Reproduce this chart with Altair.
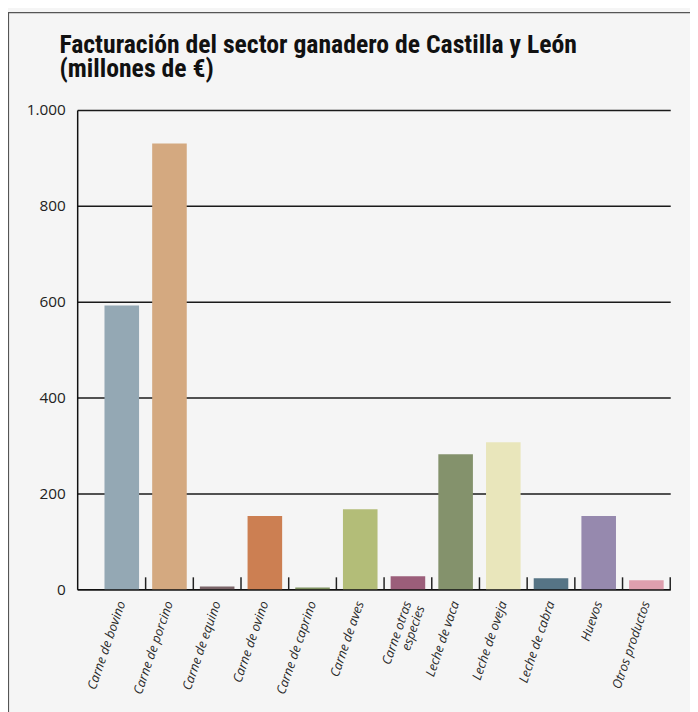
import altair as alt
import pandas as pd

categories = [
    "Carne de bovino", "Carne de porcino", "Carne de equino", "Carne de ovino",
    "Carne de caprino", "Carne de aves", "Carne otras especies", "Leche de vaca",
    "Leche de oveja", "Leche de cabra", "Huevos", "Otros productos",
]
values = [592, 930, 6, 153, 4, 167, 27, 282, 307, 23, 153, 19]
colors = [
    "#94a8b4", "#d4a980", "#7a6468", "#cc7f52", "#7f9160", "#b3bd78",
    "#9b5e7a", "#84926c", "#e9e6bb", "#567485", "#9689ae", "#de9fae",
]
y_ticks = [0, 200, 400, 600, 800, 1000]

df = pd.DataFrame({"cat": categories, "val": values})

x_scale = alt.Scale(domain=categories, paddingInner=0, paddingOuter=0.2175, align=1)
y_scale = alt.Scale(domain=[0, 1000], nice=False)

label_font = "Open Sans, Noto Sans, sans-serif"

bars = alt.Chart(df).mark_bar(width=alt.RelativeBandSize(0.725)).encode(
    x=alt.X(
        "cat:N", sort=None, scale=x_scale, title=None,
        axis=alt.Axis(
            labelAngle=289, labelAlign="right", labelBaseline="middle",
            labelPadding=12, ticks=False, domain=True, domainColor="#111",
            domainWidth=1.5, labelFont=label_font, labelFontSize=13,
            labelFontStyle="italic", labelColor="#2a2a2a",
            labelExpr="datum.label == 'Carne otras especies' ? ['Carne otras', 'especies'] : datum.label",
            labelLineHeight=14,
        ),
    ),
    y=alt.Y(
        "val:Q", scale=y_scale, title=None,
        axis=alt.Axis(
            values=y_ticks, ticks=False, domain=True, domainColor="#111",
            domainWidth=1.5, grid=True, gridColor="#1a1a1a", gridWidth=1.5,
            labelFont=label_font, labelFontSize=15.5, labelColor="#222",
            labelPadding=12,
            labelExpr="replace(format(datum.value, ','), ',', '.')",
        ),
    ),
    color=alt.Color("cat:N", sort=None,
                    scale=alt.Scale(domain=categories, range=colors), legend=None),
)

ticks = alt.Chart(df).mark_rule(color="#222", strokeWidth=1.5).encode(
    x=alt.X("cat:N", sort=None, scale=x_scale, bandPosition=1),
    y=alt.datum(0),
    y2=alt.datum(25),
)

frame_df = pd.DataFrame({"a": [0]})
left_border = alt.Chart(frame_df).mark_rule(color="#555", strokeWidth=1.2).encode(
    x=alt.value(-69.5), y=alt.value(-99), y2=alt.value(640)
)
top_border = alt.Chart(frame_df).mark_rule(color="#555", strokeWidth=1.2).encode(
    x=alt.value(-70), x2=alt.value(640), y=alt.value(-98.5)
)

chart = alt.layer(bars, ticks, left_border, top_border).properties(
    width=600,
    height=485,
    autosize=alt.AutoSizeParams(type="none"),
    padding={"left": 70, "top": 99, "right": 20, "bottom": 120},
    background="#f5f5f5",
    title=alt.TitleParams(
        text=["Facturación del sector ganadero de Castilla y León", "(millones de €)"],
        anchor="start", frame="group", dx=-18, offset=-71,
        font="Liberation Sans Narrow, Roboto Condensed, DejaVu Sans Condensed, sans-serif",
        fontSize=26, fontWeight="bold", color="#111", lineHeight=24,
    ),
).configure_view(stroke=None)

chart.save("out.html", embed_options={"renderer": "svg", "actions": False})
